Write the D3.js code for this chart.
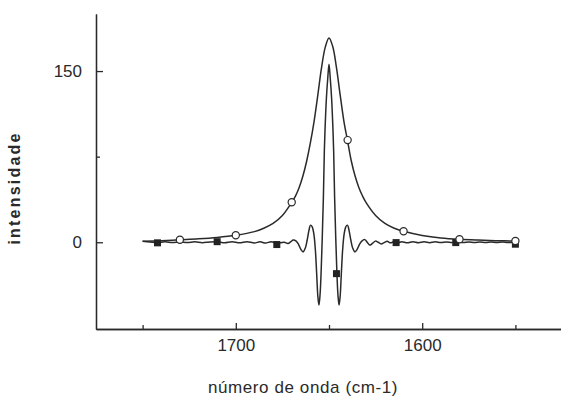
<!DOCTYPE html>
<html>
<head>
<meta charset="utf-8">
<script src="https://cdn.jsdelivr.net/npm/d3@7"></script>
<style>
  body { margin: 0; background: #fff; }
  text { font-family: "Liberation Sans", Arial, sans-serif; fill: #2a2a2a; }
</style>
</head>
<body>
<div id="chart"></div>
<script>
// x ticks (wavenumber), labelled and unlabelled
var xMajor = [1700, 1600];
var xMinor = [1750, 1650, 1550];
var yMajor = [0, 150];
var yMinor = [75];

// broad band (open circles curve)
var bandWn  = [1750, 1740, 1730, 1720, 1710, 1700, 1690, 1685, 1680, 1675, 1670, 1668, 1666, 1664, 1662, 1660, 1658, 1656, 1654, 1652, 1650,
               1648, 1646, 1644, 1642, 1640, 1638, 1636, 1634, 1632, 1630, 1625, 1620, 1615, 1610, 1600, 1590, 1580, 1570, 1560, 1550];
var bandVal = [0.8, 1.4, 2.2, 3.0, 4.2, 6.1, 9.3, 12.3, 16.5, 23.5, 35, 40.5, 48, 58, 71, 87, 106, 129, 153, 171, 179,
               171.5, 153, 129, 106, 88.5, 71, 58, 48, 40.5, 34.5, 23.5, 16.5, 12.3, 9.6, 6, 3.8, 2.6, 1.9, 1.4, 1.1];

// deconvolved band (filled squares curve)
var decWn  = [1750, 1746, 1742, 1738, 1734, 1730, 1726, 1722, 1718, 1714, 1710, 1706, 1702, 1698, 1694, 1690, 1687, 1684, 1681, 1678,
              1676, 1674, 1672, 1670.5, 1669.2, 1667.6, 1666.3, 1665, 1663.9, 1662.7, 1661.7, 1660.8, 1659.9, 1659, 1658.1, 1657.3,
              1656.6, 1656, 1655.4, 1654.8, 1654.2, 1653.6, 1653, 1652.5, 1652, 1651.4, 1650.7, 1650,
              1649.3, 1648.6, 1648, 1647.5, 1647, 1646.4, 1645.8, 1645.2, 1644.6, 1644, 1643.4, 1642.7, 1641.9, 1641, 1640.1,
              1639.2, 1638.3, 1637.3, 1636.1, 1635, 1633.7, 1632.4, 1630.8, 1629.5, 1628.1, 1626.7, 1625.1, 1623.6, 1622, 1620.4,
              1618.8, 1617, 1615, 1613, 1611, 1608, 1605, 1602, 1599, 1596, 1593, 1590, 1587, 1584, 1581, 1578, 1575, 1572, 1569,
              1566, 1563, 1560, 1557, 1554, 1550];
var decVal = [0.8, 0.2, -0.3, 0.4, -0.2, 0.4, -0.3, 0.4, -0.4, 0.3, 0.5, -0.4, 0.5, -0.5, 0.5, -0.6, 0.4, -0.7, 0.5, -0.8,
              -0.5, 0, -1, 0.5, 2, 1, -2, -6.5, -8.5, -5, 2, 10, 15, 13.5, 7, -7,
              -28, -47, -55, -46, -25, 5, 40, 80, 104, 126, 143, 156,
              143, 126, 104, 80, 40, 5, -25, -46, -55, -47, -28, -7, 7, 13.5, 15,
              10, 2, -5, -8.5, -6.5, -2, 1, 2.3, 0, -2.5, -1, 1, 0, -1.5, -0.3,
              0.8, -0.5, 0.6, -0.4, 0.5, -0.5, 0.5, -0.4, 0.4, -0.4, 0.4, -0.3, 0.3, -0.3, 0.3, -0.3, 0.3, -0.3, 0.3,
              -0.3, 0.3, -0.3, 0.3, -0.3, 0];

// markers
var circleWn  = [1730, 1700, 1670, 1640, 1610, 1580, 1550];
var circleVal = [2.2, 6.1, 35, 89.5, 9.6, 2.6, 1.1];
var squareWn  = [1742, 1710, 1678, 1646, 1614, 1582, 1550];
var squareVal = [-0.5, 0.5, -2, -27.5, -0.3, -0.3, -1.7];

var width = 561, height = 397;
var ink = "#2a2a2a";

var x = d3.scaleLinear().domain([1775, 1525]).range([96, 562]);
var y = d3.scaleLinear().domain([-76, 200]).range([329, 14]);

var svg = d3.select("#chart").append("svg")
    .attr("width", width)
    .attr("height", height);

// axes
var xAxis = svg.append("g")
    .attr("transform", "translate(0," + y(-76) + ")")
    .call(d3.axisBottom(x).tickValues(xMajor).tickFormat(d3.format("d"))
        .tickSizeInner(-6).tickSizeOuter(0).tickPadding(10));
svg.append("g")
    .attr("transform", "translate(0," + y(-76) + ")")
    .call(d3.axisBottom(x).tickValues(xMinor).tickFormat("")
        .tickSizeInner(-4).tickSizeOuter(0));

var yAxis = svg.append("g")
    .attr("transform", "translate(" + x(1775) + ",0)")
    .call(d3.axisLeft(y).tickValues(yMajor).tickFormat(d3.format("d"))
        .tickSizeInner(-7).tickSizeOuter(0).tickPadding(14));
svg.append("g")
    .attr("transform", "translate(" + x(1775) + ",0)")
    .call(d3.axisLeft(y).tickValues(yMinor).tickFormat("")
        .tickSizeInner(-4).tickSizeOuter(0));

svg.selectAll(".domain, .tick line")
    .attr("stroke", ink)
    .attr("stroke-width", 1.3);
svg.selectAll(".tick text")
    .style("font-size", "17px")
    .attr("fill", ink);

// axis titles
svg.append("text")
    .attr("x", 303)
    .attr("y", 393)
    .attr("text-anchor", "middle")
    .style("font-size", "17px")
    .style("letter-spacing", "0.6px")
    .text("número de onda (cm-1)");

svg.append("text")
    .attr("transform", "translate(20,188) rotate(-90)")
    .attr("text-anchor", "middle")
    .style("font-size", "16px")
    .style("font-weight", "bold")
    .style("letter-spacing", "2.2px")
    .text("intensidade");

// curves
var line = d3.line()
    .x(function(d) { return x(d[0]); })
    .y(function(d) { return y(d[1]); })
    .curve(d3.curveCatmullRom.alpha(0.5));

var band = d3.zip(bandWn, bandVal);
var dec = d3.zip(decWn, decVal);

svg.append("path")
    .datum(dec)
    .attr("fill", "none")
    .attr("stroke", ink)
    .attr("stroke-width", 1.5)
    .attr("d", line);

svg.append("path")
    .datum(band)
    .attr("fill", "none")
    .attr("stroke", ink)
    .attr("stroke-width", 1.5)
    .attr("d", line);

// markers
svg.selectAll("rect.sq")
    .data(d3.zip(squareWn, squareVal))
    .enter().append("rect")
    .attr("class", "sq")
    .attr("x", function(d) { return x(d[0]) - 3.5; })
    .attr("y", function(d) { return y(d[1]) - 3.5; })
    .attr("width", 7)
    .attr("height", 7)
    .attr("fill", "#222");

svg.selectAll("circle.ci")
    .data(d3.zip(circleWn, circleVal))
    .enter().append("circle")
    .attr("class", "ci")
    .attr("cx", function(d) { return x(d[0]); })
    .attr("cy", function(d) { return y(d[1]); })
    .attr("r", 3.6)
    .attr("fill", "#fff")
    .attr("stroke", ink)
    .attr("stroke-width", 1.2);
</script>
</body>
</html>
